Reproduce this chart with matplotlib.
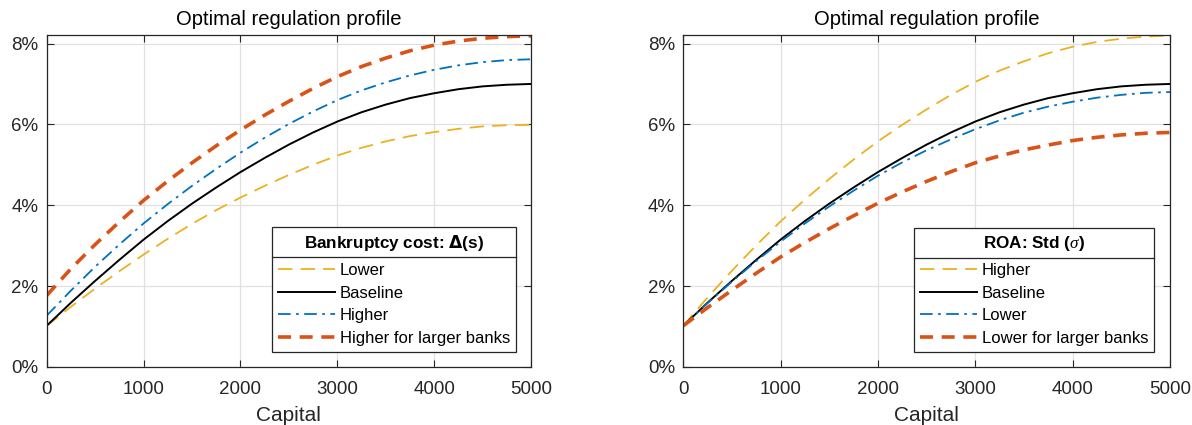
import numpy as np
import matplotlib.pyplot as plt
from matplotlib.lines import Line2D

plt.rcParams['font.family'] = ['Liberation Sans', 'DejaVu Sans']
plt.rcParams['mathtext.fontset'] = 'custom'
plt.rcParams['mathtext.it'] = 'Liberation Serif:italic'

# Capital grid
capital = np.arange(0, 5001, 250)

# Regulation profile (%), baseline calibration
baseline = [1.02, 1.59, 2.13, 2.65, 3.15, 3.61, 4.04, 4.44, 4.82, 5.17, 5.50,
            5.80, 6.07, 6.30, 6.49, 6.65, 6.77, 6.87, 6.94, 6.98, 7.00]

# Bankruptcy cost scenarios
bk_lower = [1.02, 1.49, 1.94, 2.37, 2.78, 3.17, 3.54, 3.88, 4.19, 4.48, 4.75,
            5.00, 5.23, 5.42, 5.58, 5.71, 5.81, 5.89, 5.95, 5.98, 5.99]
bk_higher = [1.27, 1.89, 2.48, 3.03, 3.55, 4.03, 4.48, 4.90, 5.30, 5.67, 6.01,
             6.32, 6.60, 6.84, 7.04, 7.21, 7.35, 7.46, 7.54, 7.59, 7.61]
bk_large = [1.77, 2.43, 3.03, 3.59, 4.12, 4.60, 5.05, 5.47, 5.86, 6.23, 6.57,
            6.89, 7.18, 7.43, 7.64, 7.82, 7.96, 8.06, 8.13, 8.17, 8.19]

# ROA volatility scenarios
roa_higher = [1.02, 1.72, 2.38, 3.01, 3.60, 4.14, 4.65, 5.13, 5.58, 5.99, 6.37,
              6.73, 7.05, 7.33, 7.56, 7.76, 7.92, 8.04, 8.12, 8.17, 8.20]
roa_lower = [1.02, 1.58, 2.11, 2.62, 3.10, 3.55, 3.97, 4.36, 4.73, 5.06, 5.36,
             5.63, 5.88, 6.10, 6.29, 6.44, 6.56, 6.66, 6.73, 6.78, 6.80]
roa_large = [1.02, 1.47, 1.90, 2.32, 2.72, 3.08, 3.42, 3.74, 4.05, 4.33, 4.59,
             4.83, 5.05, 5.22, 5.37, 5.49, 5.60, 5.68, 5.74, 5.78, 5.80]

xticks = [0, 1000, 2000, 3000, 4000, 5000]
yticks = [0, 2, 4, 6, 8]
ytick_labels = ['0%', '2%', '4%', '6%', '8%']

yellow = '#EDB120'
blue = '#0072BD'
red = '#D95319'
axis_col = '#262626'

fig = plt.figure(figsize=(11.92, 4.25), dpi=100)
ax1 = fig.add_axes([0.0392, 0.1365, 0.4063, 0.7811])
ax2 = fig.add_axes([0.5732, 0.1365, 0.4083, 0.7811])


def draw_panel(ax, series, title, anchor_x):
    styles = [
        dict(color=yellow, lw=1.3, dashes=(8, 4.5)),
        dict(color='black', lw=1.4, linestyle='-'),
        dict(color=blue, lw=1.3, dashes=(7, 3, 1.5, 3)),
        dict(color=red, lw=2.6, dashes=(3.6, 2.4)),
    ]
    for (label, y), st in zip(series, styles):
        ax.plot(capital, y, label=label, **st)
    ax.set_xlim(0, 5000)
    ax.set_ylim(0, 8.21)
    ax.set_xticks(xticks)
    ax.set_yticks(yticks)
    ax.set_yticklabels(ytick_labels)
    ax.grid(True, color='#e0e0e0', lw=0.9)
    ax.set_axisbelow(True)
    ax.tick_params(direction='in', top=True, right=True, length=5,
                   labelsize=13.5, colors=axis_col, labelcolor=axis_col)
    ax.tick_params(axis='x', pad=10)
    ax.tick_params(axis='y', pad=6)
    for s in ax.spines.values():
        s.set_color(axis_col)
        s.set_linewidth(0.9)
    ax.set_title('Optimal regulation profile', fontsize=14.6, color='black', pad=7)
    ax.set_xlabel('Capital', fontsize=15, color=axis_col, labelpad=6)
    leg = ax.legend(loc='lower right', bbox_to_anchor=(anchor_x, 0.046),
                    title=title, title_fontproperties={'weight': 'bold', 'size': 12.3},
                    fontsize=12, frameon=True, fancybox=False, framealpha=1,
                    edgecolor=axis_col, handlelength=3.4, handletextpad=0.3,
                    borderpad=0.35, labelspacing=0.46, borderaxespad=0)
    leg.get_frame().set_linewidth(0.9)
    leg._legend_box.sep = 7
    return leg


leg1 = draw_panel(ax1, [('Lower', bk_lower), ('Baseline', baseline),
                        ('Higher', bk_higher), ('Higher for larger banks', bk_large)],
                  r'Bankruptcy cost: $\mathbf{\Delta}$(s)', 0.969)
leg2 = draw_panel(ax2, [('Higher', roa_higher), ('Baseline', baseline),
                        ('Lower', roa_lower), ('Lower for larger banks', roa_large)],
                  r'ROA: Std ($\sigma$)', 0.967)

# separator line under each legend title
fig.canvas.draw()
inv = fig.transFigure.inverted()
for leg in (leg1, leg2):
    box = leg.get_window_extent()
    tb = leg.get_title().get_window_extent()
    ysep = 0.5 * (tb.y0 + tb.y1) - 14
    (x0, y0) = inv.transform((box.x0, ysep))
    (x1, _) = inv.transform((box.x1, ysep))
    fig.add_artist(Line2D([x0, x1], [y0, y0], color=axis_col, lw=0.9,
                          transform=fig.transFigure, zorder=10))

fig.savefig('out.png', dpi=100)
